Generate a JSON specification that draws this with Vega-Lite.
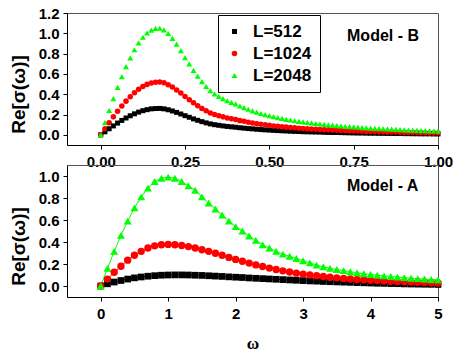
{
"$schema": "https://vega.github.io/schema/vega-lite/v6.json",
"padding": {"left": 8, "top": 5, "right": 0, "bottom": 5},
"config": {"view": {"stroke": "#555555", "strokeWidth": 1}},
"datasets": {
"B": [
{"w":0,"L=512":0,"L=1024":0,"L=2048":0},
{"w":0.0125,"L=512":0.030,"L=1024":0.060,"L=2048":0.121},
{"w":0.025,"L=512":0.060,"L=1024":0.119,"L=2048":0.240},
{"w":0.0375,"L=512":0.088,"L=1024":0.177,"L=2048":0.357},
{"w":0.05,"L=512":0.116,"L=1024":0.232,"L=2048":0.468},
{"w":0.0625,"L=512":0.142,"L=1024":0.284,"L=2048":0.573},
{"w":0.075,"L=512":0.166,"L=1024":0.332,"L=2048":0.671},
{"w":0.0875,"L=512":0.188,"L=1024":0.376,"L=2048":0.759},
{"w":0.1,"L=512":0.207,"L=1024":0.415,"L=2048":0.838},
{"w":0.1125,"L=512":0.224,"L=1024":0.448,"L=2048":0.905},
{"w":0.125,"L=512":0.238,"L=1024":0.476,"L=2048":0.961},
{"w":0.1375,"L=512":0.248,"L=1024":0.497,"L=2048":1.003},
{"w":0.15,"L=512":0.256,"L=1024":0.511,"L=2048":1.032},
{"w":0.1625,"L=512":0.259,"L=1024":0.519,"L=2048":1.048},
{"w":0.175,"L=512":0.260,"L=1024":0.520,"L=2048":1.050},
{"w":0.1875,"L=512":0.256,"L=1024":0.512,"L=2048":1.034},
{"w":0.2,"L=512":0.247,"L=1024":0.494,"L=2048":0.998},
{"w":0.2125,"L=512":0.235,"L=1024":0.471,"L=2048":0.950},
{"w":0.225,"L=512":0.221,"L=1024":0.442,"L=2048":0.893},
{"w":0.2375,"L=512":0.205,"L=1024":0.411,"L=2048":0.830},
{"w":0.25,"L=512":0.189,"L=1024":0.377,"L=2048":0.761},
{"w":0.2625,"L=512":0.173,"L=1024":0.346,"L=2048":0.698},
{"w":0.275,"L=512":0.157,"L=1024":0.315,"L=2048":0.635},
{"w":0.2875,"L=512":0.143,"L=1024":0.286,"L=2048":0.578},
{"w":0.3,"L=512":0.130,"L=1024":0.260,"L=2048":0.525},
{"w":0.3125,"L=512":0.118,"L=1024":0.237,"L=2048":0.478},
{"w":0.325,"L=512":0.108,"L=1024":0.216,"L=2048":0.436},
{"w":0.3375,"L=512":0.100,"L=1024":0.200,"L=2048":0.404},
{"w":0.35,"L=512":0.094,"L=1024":0.187,"L=2048":0.378},
{"w":0.3625,"L=512":0.088,"L=1024":0.177,"L=2048":0.357},
{"w":0.375,"L=512":0.083,"L=1024":0.166,"L=2048":0.336},
{"w":0.3875,"L=512":0.079,"L=1024":0.159,"L=2048":0.320},
{"w":0.4,"L=512":0.075,"L=1024":0.151,"L=2048":0.305},
{"w":0.4125,"L=512":0.070,"L=1024":0.140,"L=2048":0.284},
{"w":0.425,"L=512":0.066,"L=1024":0.133,"L=2048":0.268},
{"w":0.4375,"L=512":0.062,"L=1024":0.125,"L=2048":0.252},
{"w":0.45,"L=512":0.059,"L=1024":0.117,"L=2048":0.236},
{"w":0.4625,"L=512":0.055,"L=1024":0.110,"L=2048":0.223},
{"w":0.475,"L=512":0.052,"L=1024":0.104,"L=2048":0.210},
{"w":0.4875,"L=512":0.049,"L=1024":0.099,"L=2048":0.200},
{"w":0.5,"L=512":0.047,"L=1024":0.094,"L=2048":0.189},
{"w":0.5125,"L=512":0.044,"L=1024":0.088,"L=2048":0.179},
{"w":0.525,"L=512":0.042,"L=1024":0.084,"L=2048":0.170},
{"w":0.5375,"L=512":0.040,"L=1024":0.080,"L=2048":0.162},
{"w":0.55,"L=512":0.038,"L=1024":0.076,"L=2048":0.153},
{"w":0.5625,"L=512":0.036,"L=1024":0.072,"L=2048":0.146},
{"w":0.575,"L=512":0.034,"L=1024":0.069,"L=2048":0.139},
{"w":0.5875,"L=512":0.033,"L=1024":0.066,"L=2048":0.132},
{"w":0.6,"L=512":0.031,"L=1024":0.063,"L=2048":0.127},
{"w":0.6125,"L=512":0.030,"L=1024":0.060,"L=2048":0.122},
{"w":0.625,"L=512":0.029,"L=1024":0.058,"L=2048":0.117},
{"w":0.6375,"L=512":0.028,"L=1024":0.056,"L=2048":0.112},
{"w":0.65,"L=512":0.027,"L=1024":0.053,"L=2048":0.107},
{"w":0.6625,"L=512":0.025,"L=1024":0.051,"L=2048":0.103},
{"w":0.675,"L=512":0.024,"L=1024":0.049,"L=2048":0.099},
{"w":0.6875,"L=512":0.023,"L=1024":0.047,"L=2048":0.095},
{"w":0.7,"L=512":0.023,"L=1024":0.045,"L=2048":0.091},
{"w":0.7125,"L=512":0.022,"L=1024":0.043,"L=2048":0.087},
{"w":0.725,"L=512":0.021,"L=1024":0.042,"L=2048":0.084},
{"w":0.7375,"L=512":0.020,"L=1024":0.040,"L=2048":0.081},
{"w":0.75,"L=512":0.019,"L=1024":0.038,"L=2048":0.078},
{"w":0.7625,"L=512":0.018,"L=1024":0.037,"L=2048":0.075},
{"w":0.775,"L=512":0.018,"L=1024":0.035,"L=2048":0.071},
{"w":0.7875,"L=512":0.017,"L=1024":0.034,"L=2048":0.069},
{"w":0.8,"L=512":0.016,"L=1024":0.033,"L=2048":0.066},
{"w":0.8125,"L=512":0.016,"L=1024":0.032,"L=2048":0.064},
{"w":0.825,"L=512":0.015,"L=1024":0.031,"L=2048":0.062},
{"w":0.8375,"L=512":0.015,"L=1024":0.030,"L=2048":0.060},
{"w":0.85,"L=512":0.014,"L=1024":0.029,"L=2048":0.058},
{"w":0.8625,"L=512":0.014,"L=1024":0.028,"L=2048":0.056},
{"w":0.875,"L=512":0.013,"L=1024":0.027,"L=2048":0.054},
{"w":0.8875,"L=512":0.013,"L=1024":0.025,"L=2048":0.051},
{"w":0.9,"L=512":0.012,"L=1024":0.024,"L=2048":0.049},
{"w":0.9125,"L=512":0.012,"L=1024":0.023,"L=2048":0.047},
{"w":0.925,"L=512":0.011,"L=1024":0.023,"L=2048":0.046},
{"w":0.9375,"L=512":0.011,"L=1024":0.022,"L=2048":0.044},
{"w":0.95,"L=512":0.010,"L=1024":0.021,"L=2048":0.042},
{"w":0.9625,"L=512":0.010,"L=1024":0.020,"L=2048":0.041},
{"w":0.975,"L=512":0.010,"L=1024":0.019,"L=2048":0.039},
{"w":0.9875,"L=512":0.009,"L=1024":0.019,"L=2048":0.038},
{"w":1.0,"L=512":0.009,"L=1024":0.018,"L=2048":0.037}
],
"A": [
{"w":0,"L=512":0,"L=1024":0,"L=2048":0},
{"w":0.1,"L=512":0.020,"L=1024":0.063,"L=2048":0.160},
{"w":0.2,"L=512":0.036,"L=1024":0.125,"L=2048":0.315},
{"w":0.3,"L=512":0.050,"L=1024":0.180,"L=2048":0.460},
{"w":0.4,"L=512":0.063,"L=1024":0.235,"L=2048":0.590},
{"w":0.5,"L=512":0.074,"L=1024":0.280,"L=2048":0.710},
{"w":0.6,"L=512":0.082,"L=1024":0.315,"L=2048":0.810},
{"w":0.7,"L=512":0.089,"L=1024":0.345,"L=2048":0.890},
{"w":0.8,"L=512":0.094,"L=1024":0.365,"L=2048":0.950},
{"w":0.9,"L=512":0.098,"L=1024":0.375,"L=2048":0.980},
{"w":1.0,"L=512":0.100,"L=1024":0.378,"L=2048":0.990},
{"w":1.1,"L=512":0.101,"L=1024":0.375,"L=2048":0.980},
{"w":1.2,"L=512":0.101,"L=1024":0.368,"L=2048":0.950},
{"w":1.3,"L=512":0.100,"L=1024":0.358,"L=2048":0.910},
{"w":1.4,"L=512":0.098,"L=1024":0.345,"L=2048":0.870},
{"w":1.5,"L=512":0.096,"L=1024":0.330,"L=2048":0.810},
{"w":1.6,"L=512":0.093,"L=1024":0.315,"L=2048":0.755},
{"w":1.7,"L=512":0.090,"L=1024":0.298,"L=2048":0.700},
{"w":1.8,"L=512":0.087,"L=1024":0.280,"L=2048":0.645},
{"w":1.9,"L=512":0.083,"L=1024":0.260,"L=2048":0.590},
{"w":2.0,"L=512":0.080,"L=1024":0.242,"L=2048":0.540},
{"w":2.1,"L=512":0.077,"L=1024":0.225,"L=2048":0.500},
{"w":2.2,"L=512":0.073,"L=1024":0.208,"L=2048":0.455},
{"w":2.3,"L=512":0.070,"L=1024":0.192,"L=2048":0.415},
{"w":2.4,"L=512":0.067,"L=1024":0.177,"L=2048":0.375},
{"w":2.5,"L=512":0.064,"L=1024":0.163,"L=2048":0.345},
{"w":2.6,"L=512":0.061,"L=1024":0.150,"L=2048":0.315},
{"w":2.7,"L=512":0.058,"L=1024":0.138,"L=2048":0.290},
{"w":2.8,"L=512":0.055,"L=1024":0.127,"L=2048":0.270},
{"w":2.9,"L=512":0.052,"L=1024":0.117,"L=2048":0.250},
{"w":3.0,"L=512":0.049,"L=1024":0.108,"L=2048":0.230},
{"w":3.1,"L=512":0.046,"L=1024":0.100,"L=2048":0.210},
{"w":3.2,"L=512":0.044,"L=1024":0.093,"L=2048":0.190},
{"w":3.3,"L=512":0.041,"L=1024":0.086,"L=2048":0.175},
{"w":3.4,"L=512":0.039,"L=1024":0.080,"L=2048":0.160},
{"w":3.5,"L=512":0.037,"L=1024":0.074,"L=2048":0.150},
{"w":3.6,"L=512":0.035,"L=1024":0.069,"L=2048":0.140},
{"w":3.7,"L=512":0.033,"L=1024":0.064,"L=2048":0.130},
{"w":3.8,"L=512":0.031,"L=1024":0.060,"L=2048":0.120},
{"w":3.9,"L=512":0.029,"L=1024":0.056,"L=2048":0.112},
{"w":4.0,"L=512":0.027,"L=1024":0.052,"L=2048":0.105},
{"w":4.1,"L=512":0.025,"L=1024":0.049,"L=2048":0.098},
{"w":4.2,"L=512":0.024,"L=1024":0.046,"L=2048":0.092},
{"w":4.3,"L=512":0.022,"L=1024":0.043,"L=2048":0.086},
{"w":4.4,"L=512":0.021,"L=1024":0.040,"L=2048":0.081},
{"w":4.5,"L=512":0.019,"L=1024":0.038,"L=2048":0.076},
{"w":4.6,"L=512":0.018,"L=1024":0.036,"L=2048":0.071},
{"w":4.7,"L=512":0.017,"L=1024":0.034,"L=2048":0.067},
{"w":4.8,"L=512":0.016,"L=1024":0.032,"L=2048":0.063},
{"w":4.9,"L=512":0.015,"L=1024":0.030,"L=2048":0.059},
{"w":5.0,"L=512":0.014,"L=1024":0.028,"L=2048":0.056}
]
},
"spacing": 20,
"bounds": "flush",
"resolve": {"scale": {"x": "independent", "y": "independent", "color": "independent", "stroke": "independent", "shape": "independent", "size": "independent"}, "axis": {"x": "independent", "y": "independent"}},
"vconcat": [
{
  "width": 371, "height": 132,
  "encoding": {
    "x": {"field": "w", "type": "quantitative", "scale": {"domain": [-0.1, 1.0], "nice": false, "zero": false},
          "axis": {"title": null, "grid": false, "values": [0, 0.25, 0.5, 0.75, 1.0], "format": ".2f", "labelOverlap": false, "labelSeparation": -30, "labelFlush": false, "labelFont": "Liberation Sans", "labelFontSize": 15, "labelFontWeight": "bold", "labelColor": "#000000", "labelPadding": 5, "tickSize": 4, "tickColor": "#000000", "domainColor": "#000000"}},
    "y": {"field": "v", "type": "quantitative", "scale": {"domain": [-0.1, 1.2], "nice": false, "zero": false},
          "axis": {"title": "Re[σ(ω)]", "titleFont": "Liberation Sans", "titleFontSize": 19, "titleFontWeight": "bold", "titleColor": "#000000", "titlePadding": 10, "titleY": 81, "grid": false, "values": [0, 0.2, 0.4, 0.6, 0.8, 1.0, 1.2], "format": ".1f", "labelOverlap": false, "labelSeparation": -30, "labelFlush": false, "labelFont": "Liberation Sans", "labelFontSize": 15, "labelFontWeight": "bold", "labelColor": "#000000", "labelPadding": 4, "tickSize": 4, "tickColor": "#000000", "domainColor": "#000000"}}
  },
  "layer": [
    {
      "data": {"name": "B"},
      "transform": [{"fold": ["L=512", "L=1024", "L=2048"], "as": ["series", "v"]}],
      "mark": {"type": "point", "filled": true, "opacity": 1},
      "encoding": {
        "color": {"field": "series", "type": "nominal", "scale": {"domain": ["L=512", "L=1024", "L=2048"], "range": ["#000000", "#ff0000", "#00ff00"]},
          "legend": {"title": null, "orient": "none", "legendX": 151, "legendY": 2, "padding": 8, "strokeColor": "#000000", "fillColor": "#ffffff", "cornerRadius": 0, "labelFont": "Liberation Sans", "labelFontSize": 17, "labelFontWeight": "bold", "labelColor": "#000000", "labelOffset": 10, "rowPadding": 4}},
        "shape": {"field": "series", "type": "nominal", "scale": {"domain": ["L=512", "L=1024", "L=2048"], "range": ["square", "circle", "triangle-up"]}},
        "size": {"field": "series", "type": "ordinal", "scale": {"domain": ["L=512", "L=1024", "L=2048"], "range": [25, 36, 49]}}
      }
    },
    {
      "data": {"values": [{"w": 0.837, "v": 0.97, "t": "Model - B"}]},
      "mark": {"type": "text", "font": "Liberation Sans", "fontSize": 16, "fontWeight": "bold", "color": "#000000", "align": "center", "baseline": "middle"},
      "encoding": {"text": {"field": "t"}}
    }
  ]
},
{
  "width": 371, "height": 132,
  "encoding": {
    "x": {"field": "w", "type": "quantitative", "scale": {"domain": [-0.5, 5], "nice": false, "zero": false},
          "axis": {"title": "ω", "titleFont": "Liberation Serif", "titleFontSize": 17, "titleFontWeight": "bold", "titleColor": "#000000", "titlePadding": 14, "grid": false, "values": [0, 1, 2, 3, 4, 5], "format": "d", "labelOverlap": false, "labelSeparation": -30, "labelFlush": false, "labelFont": "Liberation Sans", "labelFontSize": 15, "labelFontWeight": "bold", "labelColor": "#000000", "labelPadding": 5, "tickSize": 4, "tickColor": "#000000", "domainColor": "#000000"}},
    "y": {"field": "v", "type": "quantitative", "scale": {"domain": [-0.1, 1.1], "nice": false, "zero": false},
          "axis": {"title": "Re[σ(ω)]", "titleFont": "Liberation Sans", "titleFontSize": 19, "titleFontWeight": "bold", "titleColor": "#000000", "titlePadding": 10, "titleY": 81, "grid": false, "values": [0, 0.2, 0.4, 0.6, 0.8, 1.0], "format": ".1f", "labelOverlap": false, "labelSeparation": -30, "labelFlush": false, "labelFont": "Liberation Sans", "labelFontSize": 15, "labelFontWeight": "bold", "labelColor": "#000000", "labelPadding": 4, "tickSize": 4, "tickColor": "#000000", "domainColor": "#000000"}}
  },
  "layer": [
    {
      "data": {"name": "A"},
      "transform": [{"fold": ["L=512", "L=1024", "L=2048"], "as": ["series", "v"]}],
      "mark": {"type": "line", "strokeWidth": 1},
      "encoding": {
        "stroke": {"field": "series", "type": "nominal", "scale": {"domain": ["L=512", "L=1024", "L=2048"], "range": ["#000000", "#ff0000", "#00ff00"]}, "legend": null}
      }
    },
    {
      "data": {"name": "A"},
      "transform": [{"fold": ["L=512", "L=1024", "L=2048"], "as": ["series", "v"]}],
      "mark": {"type": "point", "filled": true, "opacity": 1},
      "encoding": {
        "color": {"field": "series", "type": "nominal", "scale": {"domain": ["L=512", "L=1024", "L=2048"], "range": ["#000000", "#ff0000", "#00ff00"]}, "legend": null},
        "shape": {"field": "series", "type": "nominal", "scale": {"domain": ["L=512", "L=1024", "L=2048"], "range": ["square", "circle", "triangle-up"]}, "legend": null},
        "size": {"field": "series", "type": "ordinal", "scale": {"domain": ["L=512", "L=1024", "L=2048"], "range": [45, 64, 70]}, "legend": null}
      }
    },
    {
      "data": {"values": [{"w": 4.18, "v": 0.91, "t": "Model - A"}]},
      "mark": {"type": "text", "font": "Liberation Sans", "fontSize": 16, "fontWeight": "bold", "color": "#000000", "align": "center", "baseline": "middle"},
      "encoding": {"text": {"field": "t"}}
    }
  ]
}
]
}
